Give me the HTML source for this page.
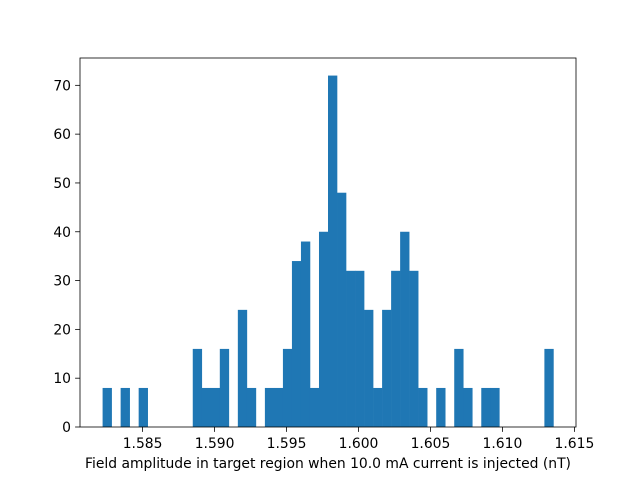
<!DOCTYPE html>
<html><head><meta charset="utf-8"><style>
body{margin:0;background:#fff;font-family:"Liberation Sans","DejaVu Sans",sans-serif}
svg text{font-family:"DejaVu Sans","Liberation Sans",sans-serif;font-size:13.9px;fill:#000}
</style></head><body>
<svg id="chart" width="640" height="480" xmlns="http://www.w3.org/2000/svg"></svg>
<script>
const counts=[8,0,8,0,8,0,0,0,0,0,16,8,8,16,0,24,8,0,8,8,16,34,38,8,40,72,48,32,32,24,8,24,32,40,32,8,0,8,0,16,8,0,8,8,0,0,0,0,0,16];
const binStart=1.58222;
const binEnd=1.61354;
const xTicks=[1.585,1.590,1.595,1.600,1.605,1.610,1.615];
const yTicks=[0,10,20,30,40,50,60,70];
const L=80,R=576,T=58,B=427;
const xmin=1.58065,xmax=1.61511,ymax=75.6;
const xs=v=>L+(v-xmin)/(xmax-xmin)*(R-L);
const ys=v=>B-v/ymax*(B-T);
const svg=document.getElementById('chart');
const NS='http://www.w3.org/2000/svg';
function mk(t,a){const e=document.createElementNS(NS,t);for(const k in a)e.setAttribute(k,a[k]);svg.appendChild(e);return e;}
const bw=(binEnd-binStart)/counts.length;
counts.forEach((c,i)=>{if(!c)return;
const x0=xs(binStart+i*bw),x1=xs(binStart+(i+1)*bw);
const r=mk('rect',{x:x0,y:ys(c),width:x1-x0+0.3,height:B-ys(c),fill:'#1f77b4'});


});
const f=mk('rect',{x:L,y:T,width:R-L,height:B-T,fill:'none',stroke:'#000','stroke-width':0.8});


xTicks.forEach(v=>{const x=xs(v);
mk('line',{x1:x,x2:x,y1:B,y2:B+4.9,stroke:'#000','stroke-width':0.8});
const t=mk('text',{x:x,y:B+21,'text-anchor':'middle'});t.textContent=v.toFixed(3);


});
yTicks.forEach(v=>{const y=ys(v);
mk('line',{x1:L,x2:L-4.9,y1:y,y2:y,stroke:'#000','stroke-width':0.8});
const t=mk('text',{x:L-9,y:y+5,'text-anchor':'end'});t.textContent=v;


});
const xt=mk('text',{x:(L+R)/2,y:B+41,'text-anchor':'middle'});
xt.textContent='Field amplitude in target region when 10.0 mA current is injected (nT)';


</script>
</body></html>
